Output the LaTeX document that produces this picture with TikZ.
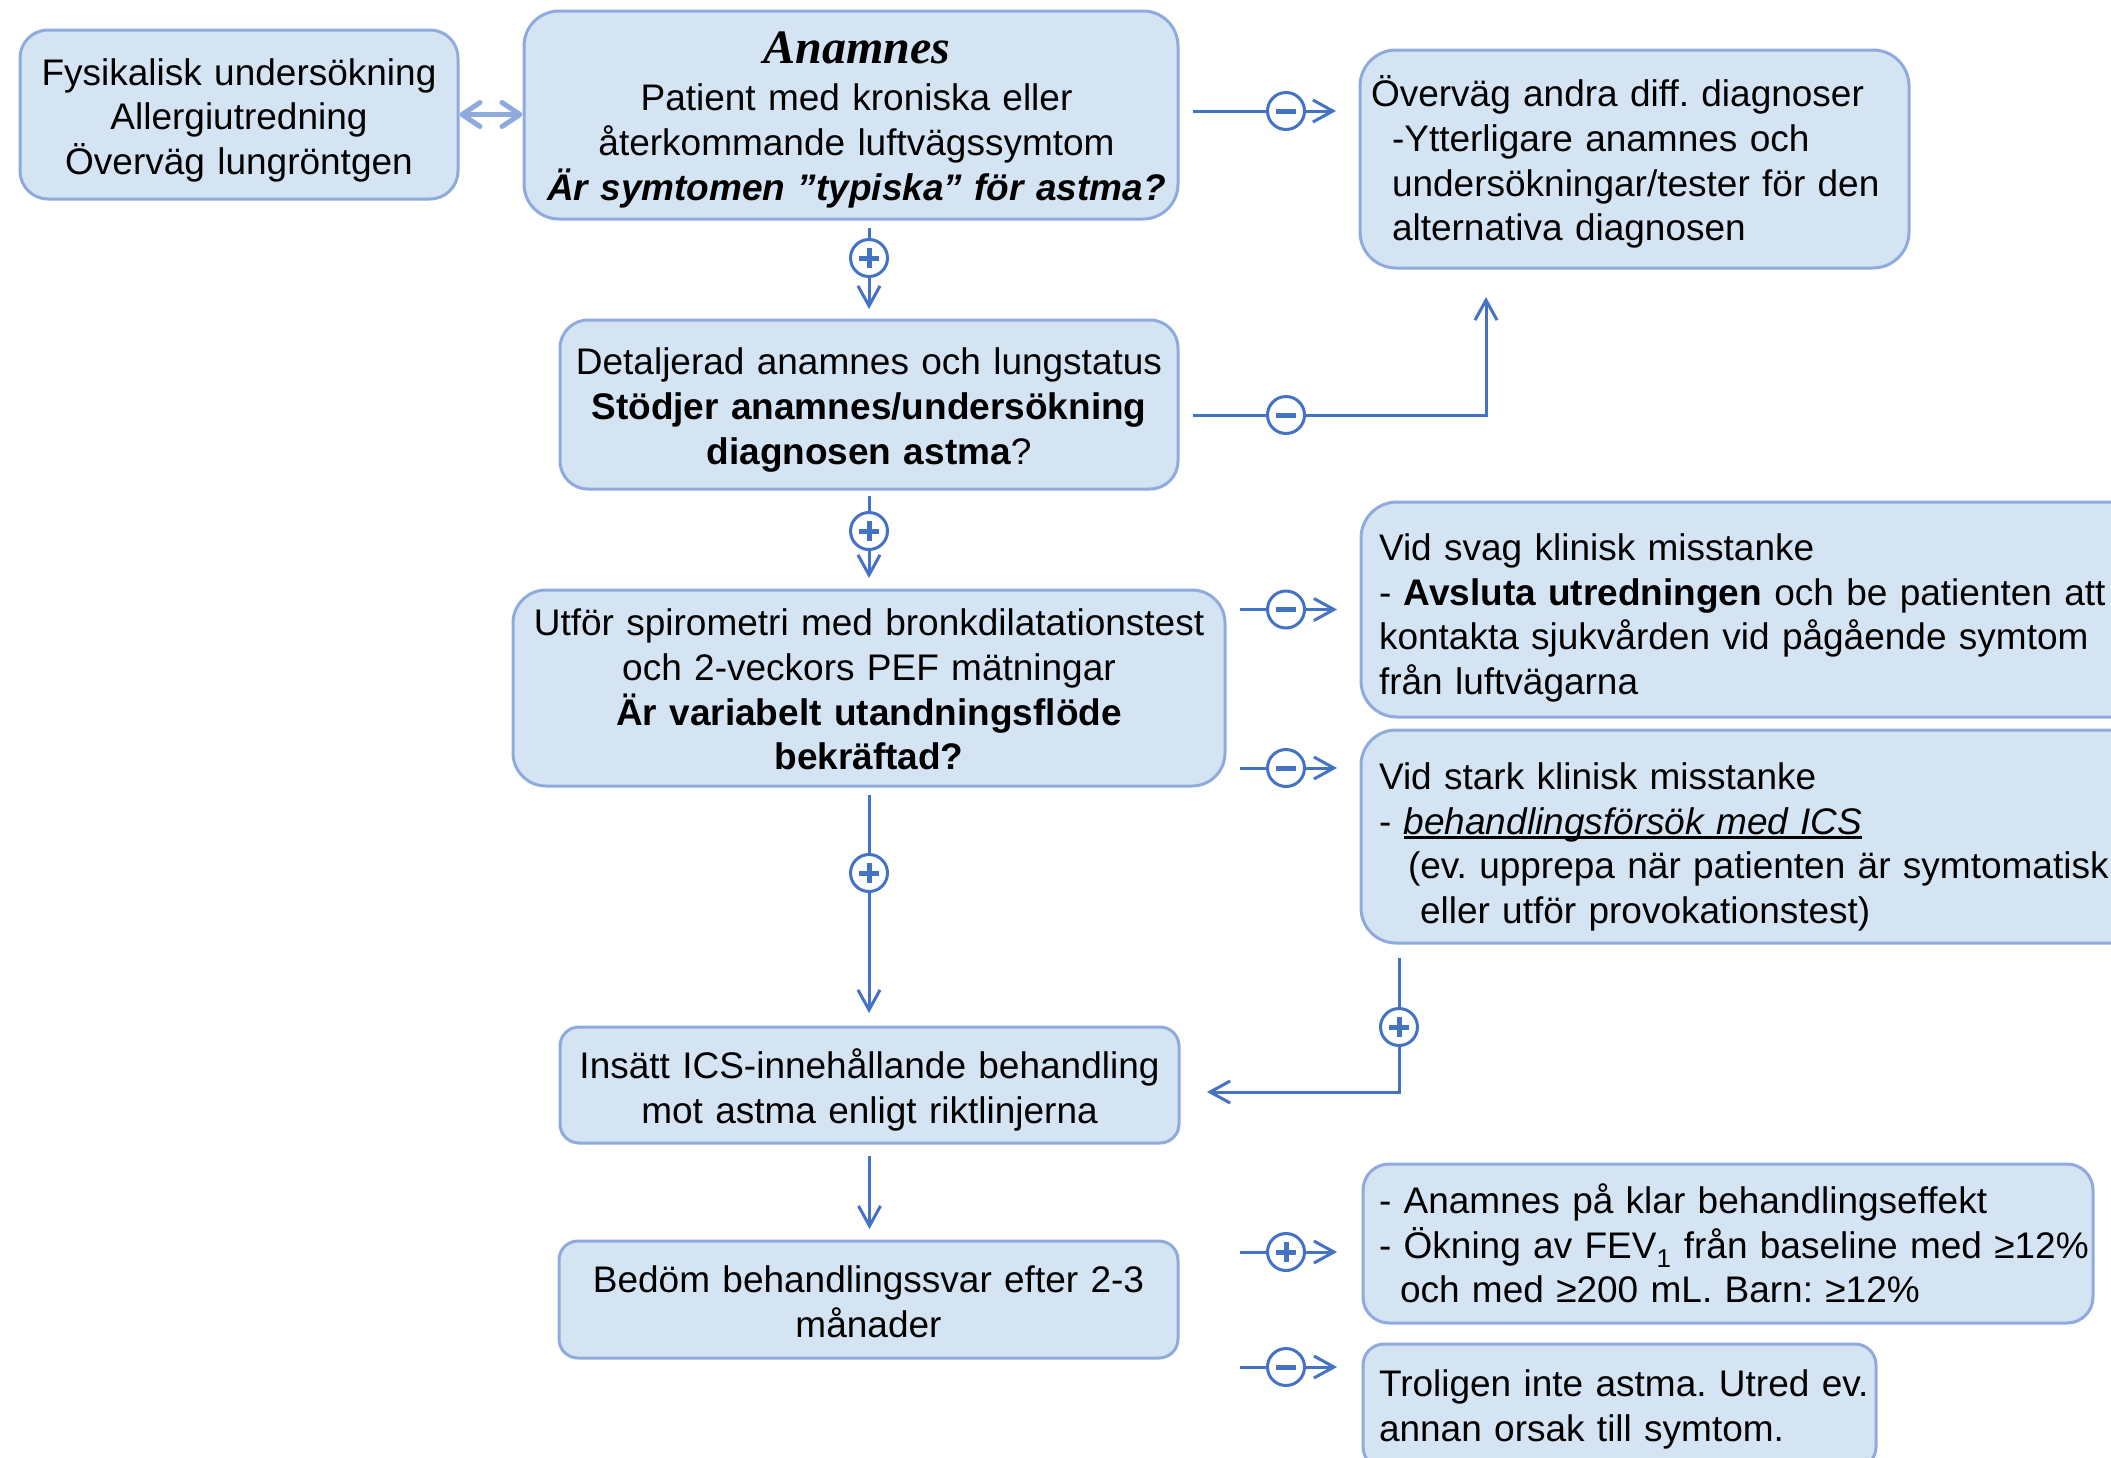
\documentclass[tikz,border=0pt]{standalone}
\usepackage{fontspec}
\setmainfont{Liberation Sans}
\newfontfamily\timesf{Liberation Serif}
\usetikzlibrary{arrows.meta,calc}
\definecolor{boxfill}{HTML}{D5E4F2}
\definecolor{boxline}{HTML}{8FAADC}
\definecolor{conblue}{HTML}{4472C4}
\frenchspacing
\newcommand\myTop[1]{\rule{0pt}{#1}}
\newcommand\myBot[1]{\rule[-#1]{0pt}{#1}}
\newsavebox\ulbox
\newcommand\myul[1]{\sbox\ulbox{#1}\rlap{\rule[-4.5pt]{\wd\ulbox}{2.4pt}}\usebox\ulbox}
\tikzset{
  flowbox/.style={draw=boxline, fill=boxfill, line width=3pt, inner ysep=0pt,
    font=\fontsize{37}{44.7}\selectfont, text=black},
  cbox/.style={flowbox, align=center},
  lbox/.style={flowbox, align=left},
  conn/.style={draw=conblue, line width=3pt, -{Straight Barb[length=20pt,width=22pt]}},
  dbl/.style={draw=boxline, line width=5pt,
    {Straight Barb[length=18pt,width=24pt,round]}-{Straight Barb[length=18pt,width=24pt,round]}},
  signcirc/.style={circle, draw=conblue, line width=3pt, fill=white, minimum size=37pt, inner sep=0pt},
  plussign/.style={signcirc, path picture={
    \draw[conblue, line width=5pt] ([xshift=-10pt]path picture bounding box.center) -- ([xshift=10pt]path picture bounding box.center);
    \draw[conblue, line width=5pt] ([yshift=-10pt]path picture bounding box.center) -- ([yshift=10pt]path picture bounding box.center);}},
  minussign/.style={signcirc, path picture={
    \draw[conblue, line width=5pt] ([xshift=-10pt]path picture bounding box.center) -- ([xshift=10pt]path picture bounding box.center);}},
}
\begin{document}
\begin{tikzpicture}[x=1pt,y=-1pt]
\path[use as bounding box] (0,0) rectangle (2111,1457);
\fill[white] (0,0) rectangle (2111,1457);
\clip (0,0) rectangle (2111,1457);

% boxes
\node[cbox, text width=422pt, inner xsep=8pt, minimum height=169pt, rounded corners=28pt] (fys) at (239,114.5)
  {\myTop{40.6pt}Fysikalisk undersökning\\Allergiutredning\\Överväg lungröntgen\myBot{10pt}};
\node[cbox, text width=638pt, inner xsep=8pt, minimum height=208pt, rounded corners=35pt] (anam) at (851,115)
  {\myTop{43.1pt}\hspace*{12pt}{\timesf\bfseries\itshape\fontsize{48}{44.7}\selectfont Anamnes}\\[3pt]
   \hspace*{11pt}Patient med kroniska eller\\
   \hspace*{11pt}återkommande luftvägssymtom\\
   \hspace*{11pt}{\bfseries\itshape Är symtomen ”typiska” för astma?}\myBot{10pt}};
\node[lbox, text width=527pt, inner xsep=11pt, minimum height=218pt, rounded corners=36pt] (overv) at (1634.5,159)
  {\myTop{39.5pt}Överväg andra diff. diagnoser\\
   \hspace*{21pt}-Ytterligare anamnes och\\
   \hspace*{21pt}undersökningar/tester för den\\
   \hspace*{21pt}alternativa diagnosen\myBot{10pt}};
\node[cbox, text width=608pt, inner xsep=5pt, minimum height=169pt, rounded corners=28pt] (detal) at (869,404.5)
  {\myTop{39.6pt}Detaljerad anamnes och lungstatus\\
   {\bfseries Stödjer anamnes/undersökning}\\
   {\bfseries diagnosen astma}?\myBot{10pt}};
\node[cbox, text width=696pt, inner xsep=8pt, minimum height=196pt, rounded corners=33pt] (utfor) at (869,688)
  {\myTop{39.7pt}Utför spirometri med bronkdilatationstest\\
   och 2-veckors PEF mätningar\\
   {\bfseries Är variabelt utandningsflöde}\\
   {\bfseries bekräftad?}\myBot{10pt}};
\node[lbox, text width=753pt, inner xsep=18pt, minimum height=215pt, rounded corners=36pt] (svag) at (1755.5,609.5)
  {\myTop{45.9pt}Vid svag klinisk misstanke\\
   \mbox{- {\bfseries Avsluta utredningen} och be patienten att}\\
   kontakta sjukvården vid pågående symtom\\
   från luftvägarna\myBot{10pt}};
\node[lbox, text width=753pt, inner xsep=18pt, minimum height=213pt, rounded corners=35pt] (stark) at (1755.5,836.5)
  {\myTop{49.7pt}Vid stark klinisk misstanke\\
   - \myul{\itshape behandlingsförsök med ICS}\\
   \hspace*{29pt}\mbox{(ev. upprepa när patienten är symtomatisk}\\
   \hspace*{41pt}eller utför provokationstest)\myBot{10pt}};
\node[cbox, text width=603pt, inner xsep=8pt, minimum height=116pt, rounded corners=19pt] (insatt) at (869.5,1085)
  {\myTop{42.3pt}Insätt ICS-innehållande behandling\\
   mot astma enligt riktlinjerna\myBot{10pt}};
\node[cbox, text width=603pt, inner xsep=8pt, minimum height=117pt, rounded corners=19pt] (bedom) at (868.5,1299.5)
  {\myTop{41.3pt}Bedöm behandlingssvar efter 2-3\\
   månader\myBot{10pt}};
\node[lbox, text width=698pt, inner xsep=16pt, minimum height=159pt, rounded corners=26pt] (klar) at (1728,1243.5)
  {\myTop{39.2pt}\mbox{- Anamnes på klar behandlingseffekt}\\
   \mbox{- Ökning av FEV\textsubscript{1} från baseline med ≥12\%}\\
   \hspace*{21pt}\mbox{och med ≥200 mL. Barn: ≥12\%}\myBot{10pt}};
\node[lbox, text width=481pt, inner xsep=16pt, minimum height=124pt, rounded corners=21pt] (trol) at (1619.5,1406)
  {\myTop{35.7pt}\mbox{Troligen inte astma. Utred ev.}\\
   \mbox{annan orsak till symtom.}\myBot{10pt}};

% left double arrow
\draw[dbl] (fys.east) -- (fys.east -| anam.west);

% main column connectors
\draw[conn, shorten <=7.5pt, shorten >=9.5pt] (detal.north |- anam.south) -- (detal.north);
\draw[conn, shorten <=5.5pt, shorten >=10.5pt] (detal.south) -- (utfor.north);
\draw[conn, shorten <=7.5pt, shorten >=12.5pt] (utfor.south) -- (insatt.north -| utfor.south);
\draw[conn, shorten <=11.5pt, shorten >=10.5pt] (insatt.south) -- (insatt.south |- bedom.north);

% side connectors
\coordinate (a1) at ([yshift=4pt]anam.east);
\draw[conn, shorten <=13.5pt, shorten >=22.5pt] (a1) -- (a1 -| overv.west);
\coordinate (d1) at ([yshift=-10.5pt]detal.east);
\draw[conn, shorten <=13.5pt, shorten >=27.5pt] (d1) -| ([xshift=-148.5pt]overv.south);
\draw[conn, shorten <=13.5pt, shorten >=22.5pt] (svag.west -| utfor.east) -- (svag.west);
\coordinate (u2) at ([yshift=-80pt]utfor.east);
\draw[conn, shorten <=13.5pt, shorten >=22.5pt] (u2) -- (u2 -| stark.west);
\coordinate (k1) at ([xshift=39.5pt]stark.south west);
\draw[conn, shorten <=13.5pt, shorten >=26.5pt] (k1) |- ([yshift=-7pt]insatt.east);
\coordinate (b1) at ([yshift=47.5pt]bedom.east);
\draw[conn, shorten <=60.5pt, shorten >=24.5pt] (b1) -- (b1 -| klar.west);
\coordinate (b2) at ([yshift=-67.5pt]bedom.east);
\draw[conn, shorten <=60.5pt, shorten >=24.5pt] (b2) -- (b2 -| trol.west);

% decision signs
\node[plussign] (p1) at (869,258) {};
\node[minussign] (m1) at (1286,111) {};
\node[minussign] (m2) at (1286,415) {};
\node[plussign] (p2) at (869,531) {};
\node[minussign] (m3) at (1286,609.5) {};
\node[minussign] (m4) at (1286,768) {};
\node[plussign] (p3) at (869,873) {};
\node[plussign] (p4) at (1399,1027) {};
\node[plussign] (p5) at (1286,1252) {};
\node[minussign] (m5) at (1286,1367) {};
\end{tikzpicture}
\end{document}
